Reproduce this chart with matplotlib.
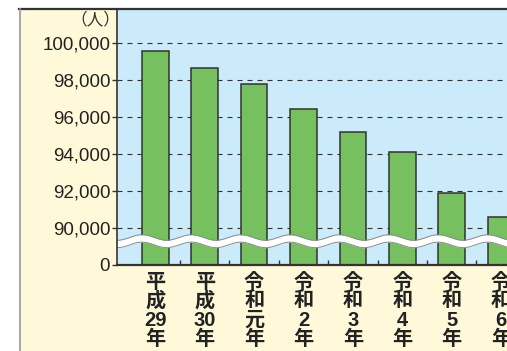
import numpy as np
import matplotlib.pyplot as plt
from matplotlib.patches import Rectangle
from matplotlib.lines import Line2D
import matplotlib.transforms as mtransforms

# 年度別の人数（人）
years = [["平", "成", "29", "年"], ["平", "成", "30", "年"], ["令", "和", "元", "年"],
         ["令", "和", "2", "年"], ["令", "和", "3", "年"], ["令", "和", "4", "年"],
         ["令", "和", "5", "年"], ["令", "和", "6", "年"]]
counts = [99570, 98650, 97750, 96420, 95190, 94110, 91890, 90570]

grid_vals = [90000, 92000, 94000, 96000, 98000, 100000]
ytick_vals = [88000] + grid_vals          # 88000 の位置を省略線下の「0」とする
ytick_text = ["0", "90,000", "92,000", "94,000", "96,000", "98,000", "100,000"]

GREEN = "#76c060"
BLUE = "#ccebfa"
CREAM = "#fff9da"
DARK = "#333333"

W, H = 507, 351
fig = plt.figure(figsize=(W / 100, H / 100), dpi=100)
fig.patch.set_facecolor("white")

# 外枠（クリーム地・上の線・左の線）
fig.patches.append(Rectangle((19.5 / W, 0), 1, (H - 9.5) / H, transform=fig.transFigure,
                             facecolor=CREAM, edgecolor="none", zorder=-5))
fig.lines.append(Line2D([19 / W, 1], [(H - 9.3) / H] * 2, transform=fig.transFigure,
                        color=DARK, lw=1.6, zorder=5))
fig.lines.append(Line2D([19.5 / W] * 2, [0, (H - 9.3) / H], transform=fig.transFigure,
                        color="#9a9a9a", lw=1.2, zorder=5))

ax = fig.add_axes([117.3 / W, (H - 264.5) / H, 1 - 117.3 / W, (264.5 - 10.3) / H])
ax.set_zorder(2)
ax.set_facecolor(BLUE)

x = np.arange(len(counts))
ax.bar(x, counts, width=0.54, color=GREEN, edgecolor=DARK, linewidth=1.1, zorder=1)

for v in grid_vals:
    ax.axhline(v, color=DARK, lw=0.8, dashes=(4.5, 4.5), zorder=0.5)

ax.set_xlim(-0.77, 7.12)
ax.set_ylim(88000, 101746)

# 省略線（波線）
wx = np.linspace(-0.77, 7.12, 600)
wc = 89260 + 150 * np.sin(2 * np.pi * (wx + 0.27) / 1.0 + np.pi / 2)
ax.fill_between(wx, wc - 200, wc + 200, color="white", lw=0, zorder=2)
ax.plot(wx, wc - 200, color="#8a8a8a", lw=0.7, zorder=2.1)
ax.plot(wx, wc + 200, color="#8a8a8a", lw=0.7, zorder=2.1)

for s in ["top", "right"]:
    ax.spines[s].set_visible(False)
ax.spines["left"].set_color(DARK)
ax.spines["left"].set_linewidth(1.2)
ax.spines["bottom"].set_color(DARK)
ax.spines["bottom"].set_linewidth(1.6)

ax.set_yticks(ytick_vals)
ax.set_yticklabels(ytick_text, family=["Liberation Sans"], fontsize=13.5, color="#222222")
ax.tick_params(axis="y", direction="out", length=3.6, width=1, color=DARK, pad=1.5)

# 年度ラベル（縦書き、1文字ずつ）
ax.set_xticks(x)
ax.set_xticklabels([])
ax.tick_params(axis="x", which="major", length=0)
ax.set_xticks(x[:-1] + 0.5, minor=True)
ax.tick_params(axis="x", which="minor", direction="in", length=3.6, width=1, color=DARK)

trans = mtransforms.blended_transform_factory(ax.transData, fig.transFigure)
line_y = [282.5, 300.5, 320, 339.5]
for xi, chars in zip(x, years):
    for ch, yy in zip(chars, line_y):
        ax.text(xi, (H - yy) / H, ch, transform=trans, ha="center", va="center",
                fontsize=14.5, fontweight="bold", color="#222222", clip_on=False,
                family=["Liberation Sans", "Noto Sans CJK JP"])

fig.text(95 / W, (H - 20) / H, "（人）", ha="center", va="center", fontsize=12,
         family=["Noto Sans CJK JP"], color="#333333")

fig.savefig("out.png", dpi=100, facecolor=fig.get_facecolor())
